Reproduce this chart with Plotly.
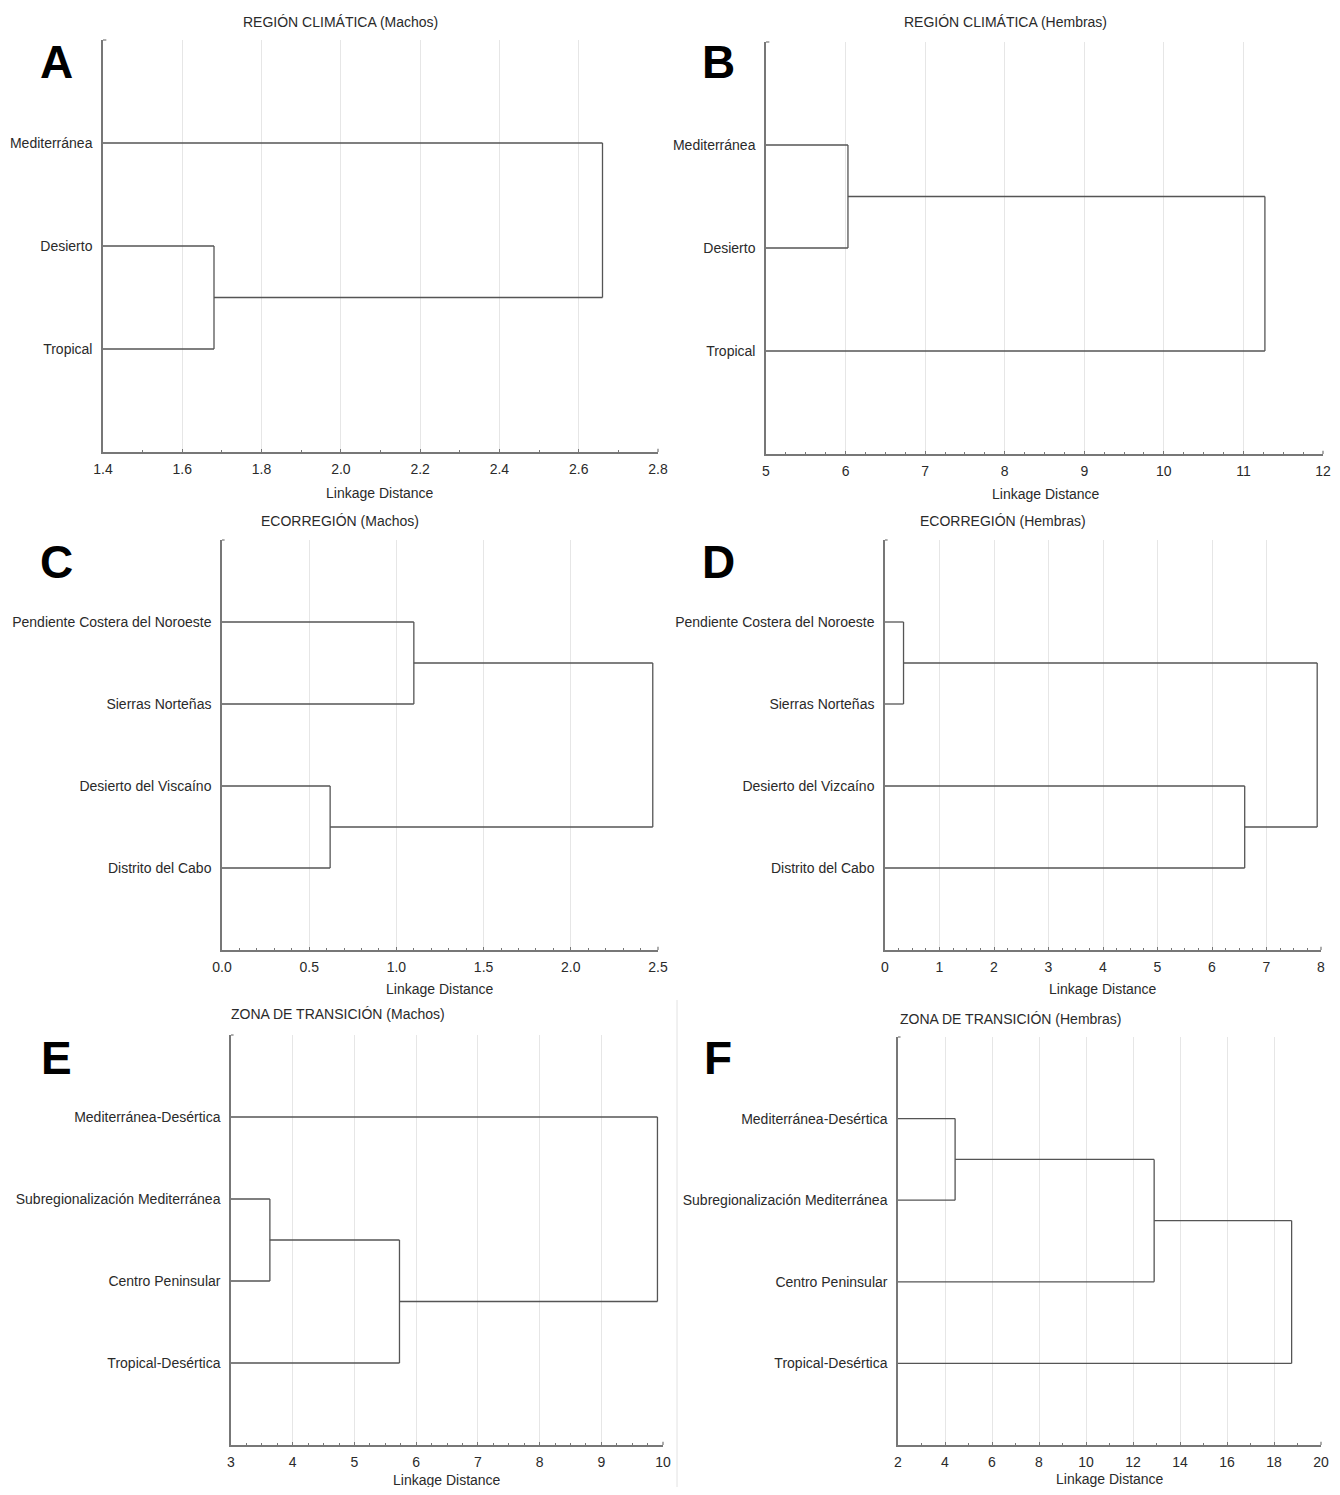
import plotly.graph_objects as go

# reference canvas is 1340x1495; the page body adds an 8px margin, so the figure is 16px smaller
REF_W, REF_H = 1340, 1495
OFF = 8
W, H = REF_W - 2 * OFF, REF_H - 2 * OFF

# ---------------- data ----------------
labels_A = ["Mediterránea", "Desierto", "Tropical"]
left_A = [1, 0]
right_A = [2, 3]
height_A = [1.68, 2.66]
ticks_A = [1.4, 1.6, 1.8, 2.0, 2.2, 2.4, 2.6, 2.8]
ticktext_A = ["1.4", "1.6", "1.8", "2.0", "2.2", "2.4", "2.6", "2.8"]

labels_B = ["Mediterránea", "Desierto", "Tropical"]
left_B = [0, 2]
right_B = [1, 3]
height_B = [6.03, 11.27]
ticks_B = [5, 6, 7, 8, 9, 10, 11, 12]
ticktext_B = ["5", "6", "7", "8", "9", "10", "11", "12"]

labels_C = ["Pendiente Costera del Noroeste", "Sierras Norteñas",
            "Desierto del Viscaíno", "Distrito del Cabo"]
left_C = [2, 0, 4]
right_C = [3, 1, 5]
height_C = [0.62, 1.10, 2.47]
ticks_C = [0.0, 0.5, 1.0, 1.5, 2.0, 2.5]
ticktext_C = ["0.0", "0.5", "1.0", "1.5", "2.0", "2.5"]

labels_D = ["Pendiente Costera del Noroeste", "Sierras Norteñas",
            "Desierto del Vizcaíno", "Distrito del Cabo"]
left_D = [0, 2, 4]
right_D = [1, 3, 5]
height_D = [0.34, 6.60, 7.93]
ticks_D = [0, 1, 2, 3, 4, 5, 6, 7, 8]
ticktext_D = ["0", "1", "2", "3", "4", "5", "6", "7", "8"]

labels_E = ["Mediterránea-Desértica", "Subregionalización Mediterránea",
            "Centro Peninsular", "Tropical-Desértica"]
left_E = [1, 4, 0]
right_E = [2, 3, 5]
height_E = [3.63, 5.73, 9.91]
ticks_E = [3, 4, 5, 6, 7, 8, 9, 10]
ticktext_E = ["3", "4", "5", "6", "7", "8", "9", "10"]

labels_F = ["Mediterránea-Desértica", "Subregionalización Mediterránea",
            "Centro Peninsular", "Tropical-Desértica"]
left_F = [0, 4, 5]
right_F = [1, 2, 3]
height_F = [4.43, 12.9, 18.75]
ticks_F = [2, 4, 6, 8, 10, 12, 14, 16, 18, 20]
ticktext_F = ["2", "4", "6", "8", "10", "12", "14", "16", "18", "20"]

titles = ["REGIÓN CLIMÁTICA (Machos)", "REGIÓN CLIMÁTICA (Hembras)",
          "ECORREGIÓN (Machos)", "ECORREGIÓN (Hembras)",
          "ZONA DE TRANSICIÓN (Machos)", "ZONA DE TRANSICIÓN (Hembras)"]
letters = ["A", "B", "C", "D", "E", "F"]
xlabel = "Linkage Distance"

# ---------------- layout/style ----------------
panels = [
    dict(labels=labels_A, left=left_A, right=right_A, h=height_A, tv=ticks_A, tt=ticktext_A,
         px=(103, 658), py=(40, 452), minor=0.1,
         title_xy=(340, 22), letter_xy=(57, 62), xl_xy=(380, 493)),
    dict(labels=labels_B, left=left_B, right=right_B, h=height_B, tv=ticks_B, tt=ticktext_B,
         px=(766, 1323), py=(42, 454), minor=0.25,
         title_xy=(1005, 22), letter_xy=(718, 62), xl_xy=(1046, 494)),
    dict(labels=labels_C, left=left_C, right=right_C, h=height_C, tv=ticks_C, tt=ticktext_C,
         px=(222, 658), py=(540, 950), minor=0.1,
         title_xy=(340, 521), letter_xy=(57, 562), xl_xy=(440, 989)),
    dict(labels=labels_D, left=left_D, right=right_D, h=height_D, tv=ticks_D, tt=ticktext_D,
         px=(885, 1321), py=(540, 950), minor=0.25,
         title_xy=(1003, 521), letter_xy=(718, 562), xl_xy=(1103, 989)),
    dict(labels=labels_E, left=left_E, right=right_E, h=height_E, tv=ticks_E, tt=ticktext_E,
         px=(231, 663), py=(1035, 1445), minor=0.25,
         title_xy=(338, 1014), letter_xy=(57, 1058), xl_xy=(447, 1480)),
    dict(labels=labels_F, left=left_F, right=right_F, h=height_F, tv=ticks_F, tt=ticktext_F,
         px=(898, 1321), py=(1037, 1445), minor=1,
         title_xy=(1010, 1019), letter_xy=(718, 1058), xl_xy=(1110, 1479)),
]

FONT = "Liberation Sans, Arial, sans-serif"
LINE_C = "#555555"
AXIS_C = "#777777"
GRID_C = "#e6e6e6"
TXT_C = "#2a2a2a"
FS = 14


def px2x(p):
    return (p - OFF) / W


def py2y(p):
    return 1 - (p - OFF) / H


fig = go.Figure()
annotations = []
shapes = []

for k, P in enumerate(panels):
    n = len(P["labels"])
    xmin, xmax = P["tv"][0], P["tv"][-1]
    nx = [xmin] * n
    ny = [i + 1 for i in range(n)]
    xs, ys = [], []
    for a, b, hh in zip(P["left"], P["right"], P["h"]):
        for c in (a, b):
            xs += [nx[c], hh, None]
            ys += [ny[c], ny[c], None]
        xs += [hh, hh, None]
        ys += [ny[a], ny[b], None]
        nx.append(hh)
        ny.append((ny[a] + ny[b]) / 2)
    sfx = "" if k == 0 else str(k + 1)
    fig.add_trace(go.Scatter(x=xs, y=ys, mode="lines",
                             line=dict(color=LINE_C, width=1.3),
                             xaxis="x" + sfx, yaxis="y" + sfx,
                             showlegend=False, hoverinfo="skip", cliponaxis=False))
    fig.update_layout(**{
        "xaxis" + sfx: dict(
            domain=[px2x(P["px"][0]), px2x(P["px"][1])],
            anchor="y" + sfx, range=[xmin, xmax], automargin=False,
            tickmode="array", tickvals=P["tv"], ticktext=P["tt"],
            ticklabeloverflow="allow",
            showline=True, linecolor=AXIS_C, linewidth=1.5,
            ticks="inside", ticklen=3, tickcolor=AXIS_C,
            minor=dict(dtick=P["minor"], tick0=xmin, ticks="inside", ticklen=2,
                       tickcolor=AXIS_C, showgrid=False),
            showgrid=True, gridcolor=GRID_C, gridwidth=1,
            zeroline=False, ticklabelstandoff=3,
            tickfont=dict(family=FONT, size=FS, color=TXT_C),
        ),
        "yaxis" + sfx: dict(
            domain=[py2y(P["py"][1]), py2y(P["py"][0])],
            anchor="x" + sfx, range=[n + 1, 0], automargin=False,
            tickmode="array", tickvals=list(range(1, n + 1)), ticktext=P["labels"],
            ticklabeloverflow="allow",
            showline=True, linecolor=AXIS_C, linewidth=1.5,
            ticks="", showgrid=False, zeroline=False, ticklabelstandoff=6,
            tickfont=dict(family=FONT, size=FS, color=TXT_C),
        ),
    })
    # small end hooks at top of y axis and right end of x axis
    xd = "x" + sfx + " domain"
    yd = "y" + sfx + " domain"
    shapes.append(dict(type="line", xref=xd, yref=yd, x0=0, x1=0.006, y0=1, y1=1,
                       line=dict(color=AXIS_C, width=1.2)))
    shapes.append(dict(type="line", xref=xd, yref=yd, x0=1, x1=1, y0=0, y1=0.008,
                       line=dict(color=AXIS_C, width=1.2)))
    tx, ty = P["title_xy"]
    annotations.append(dict(x=px2x(tx), y=py2y(ty), xref="paper", yref="paper",
                            text=titles[k], showarrow=False, xanchor="center", yanchor="middle",
                            font=dict(family=FONT, size=FS, color=TXT_C)))
    lx, ly = P["letter_xy"]
    annotations.append(dict(x=px2x(lx), y=py2y(ly), xref="paper", yref="paper",
                            text="<b>" + letters[k] + "</b>", showarrow=False,
                            xanchor="center", yanchor="middle",
                            font=dict(family=FONT, size=46, color="#000")))
    ax, ay = P["xl_xy"]
    annotations.append(dict(x=px2x(ax), y=py2y(ay), xref="paper", yref="paper",
                            text=xlabel, showarrow=False, xanchor="center", yanchor="middle",
                            font=dict(family=FONT, size=FS, color=TXT_C)))

shapes.append(dict(type="line", xref="paper", yref="paper",
                   x0=px2x(677), x1=px2x(677), y0=py2y(1000), y1=0,
                   line=dict(color="#e2e2e2", width=1)))

fig.update_layout(
    width=W, height=H, autosize=False,
    margin=dict(l=0, r=0, t=0, b=0, autoexpand=False),
    paper_bgcolor="white", plot_bgcolor="white",
    annotations=annotations,
    shapes=shapes,
)

fig.write_html("out.html")
